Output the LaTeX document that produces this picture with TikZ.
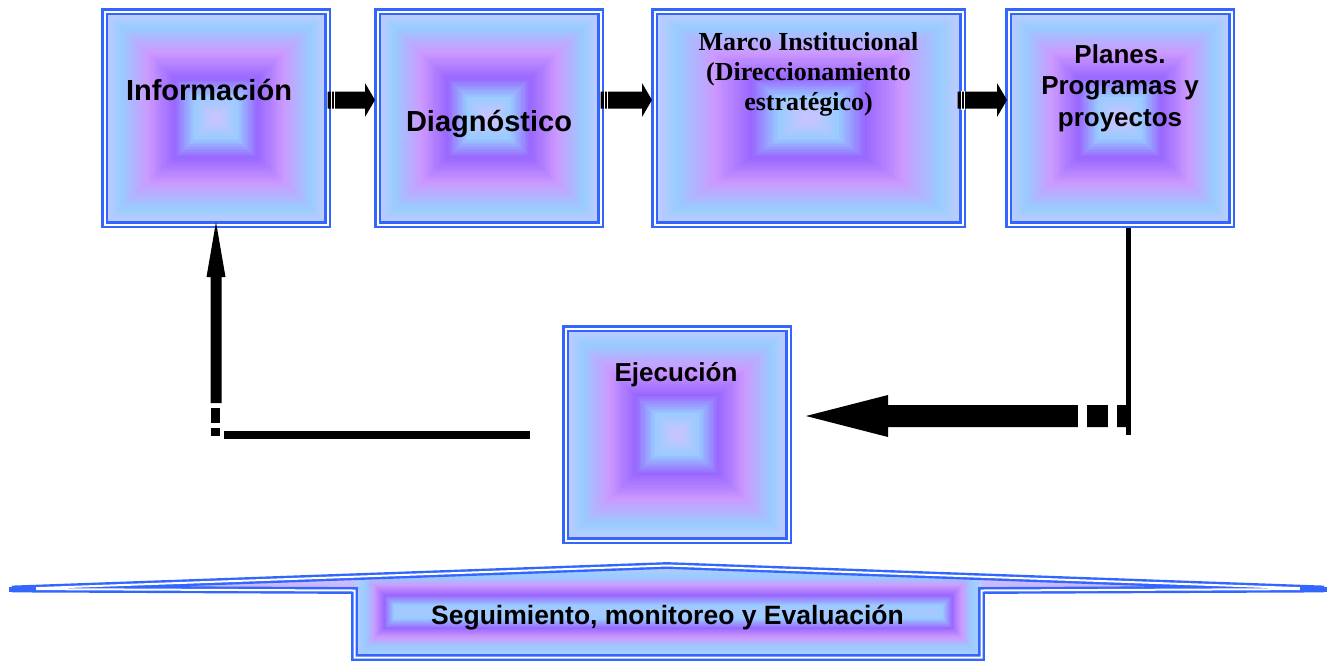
\documentclass[tikz,border=0pt]{standalone}
\usepackage{fontspec}
\setmainfont{Liberation Serif}
\setsansfont{Liberation Sans}
\usetikzlibrary{calc,backgrounds}
\definecolor{bl}{HTML}{3366FF}
\definecolor{g0}{HTML}{C4CCFF}
\definecolor{g1}{HTML}{99CCFF}
\definecolor{g2}{HTML}{CC99FF}
\definecolor{g3}{HTML}{9966FF}
\definecolor{g4}{HTML}{99CCFF}
\definecolor{g5}{HTML}{CCC4FF}
\definecolor{h0}{HTML}{B8CCFF}
\definecolor{h1}{HTML}{99CCFF}
\definecolor{h2}{HTML}{CC99FF}
\definecolor{h3}{HTML}{9966FF}
\definecolor{h4}{HTML}{99CCFF}
\definecolor{h5}{HTML}{A8C8FF}
\tikzset{
  pbox/.style={rectangle, draw=bl, line width=2.4pt, double=white, double distance=2pt,
    inner sep=0pt, outer sep=0pt, minimum width=223pt, minimum height=213pt},
  lblbig/.style={font=\sffamily\bfseries\fontsize{29pt}{33pt}\selectfont, inner sep=0pt, anchor=base},
  lblmid/.style={font=\sffamily\bfseries\fontsize{26pt}{31.5pt}\selectfont, inner sep=0pt, align=center},
  lblserif/.style={font=\rmfamily\bfseries\fontsize{26pt}{30pt}\selectfont, inner sep=0pt, align=center, anchor=north},
  bandline/.style={draw=bl, line width=2.4pt, double=white, double distance=2pt},
}
\newcommand\boxshade[1]{%
  \foreach \ca/\cb/\ta/\tb in {g0/g1/0/0.14, g1/g2/0.14/0.38, g2/g3/0.38/0.62, g3/g4/0.62/0.8, g4/g5/0.8/0.98}{%
    \foreach \jj in {0,...,11}{%
      \pgfmathsetmacro\sfac{1-(\ta+(\tb-\ta)*\jj/12)}%
      \pgfmathtruncatemacro\pmix{100*\jj/12}%
      \fill[\cb!\pmix!\ca] ($(#1.center)!\sfac!(#1.south west)$) rectangle ($(#1.center)!\sfac!(#1.north east)$);
    }}}
\newcommand\rblock[2]{%
  \fill ($(#1)+(0,-8.5)$) -- ($(#2)+(-10,-8.5)$) -- ($(#2)+(-10,-17)$) -- (#2) -- ($(#2)+(-10,17)$) -- ($(#2)+(-10,8.5)$) -- ($(#1)+(0,8.5)$) -- cycle;
  \fill[white] ($(#1)+(3,-9.5)$) rectangle ($(#1)+(4,9.5)$);
  \fill[white] ($(#1)+(6.3,-9.5)$) rectangle ($(#1)+(7.3,9.5)$);}
\begin{document}
\begin{tikzpicture}[x=1pt,y=-1pt]
\useasboundingbox (0,0) rectangle (1333,662);
% boxes
\node[pbox] (info) at (216,118) {};
\node[pbox] (diag) at (489,118) {};
\node[pbox, minimum width=308pt] (marco) at (808.5,118) {};
\node[pbox] (plan) at (1120,118) {};
\node[pbox, minimum height=212pt] (ejec) at (677,434.5) {};
\begin{scope}[on background layer]
  \fill[white] (0,0) rectangle (1333,662);
  \boxshade{info}
  \boxshade{diag}
  \boxshade{marco}
  \boxshade{plan}
  \boxshade{ejec}
\end{scope}
% labels
\node[lblbig] (infot) at (209,100.5) {Información};
\node[lblbig] (diagt) at (489,131) {Diagnóstico};
\node[lblserif] (marcot) at (808.5,32.4) {Marco Institucional\\(Direccionamiento\\estratégico)};
\node[lblmid, anchor=north] (plant) at (1120,44.4) {Planes.\\Programas y\\proyectos};
\node[lblmid, anchor=base] (eject) at (676,381) {Ejecución};
% arrows between top boxes
\coordinate (a1s) at ($(info.east)+(0,-18)$);
\coordinate (a1e) at ($(diag.west)+(-2.5,-18)$);
\coordinate (a2s) at ($(diag.east)+(0,-18)$);
\coordinate (a2e) at ($(marco.west)+(-2.5,-18)$);
\coordinate (a3s) at ($(marco.east)+(-5,-18)$);
\coordinate (a3e) at ($(plan.west)+(-1.5,-18)$);
\rblock{a1s}{a1e}
\rblock{a2s}{a2e}
\rblock{a3s}{a3e}
% right connector: Planes -> Ejecucion
\coordinate (rc) at ($(plan.south)+(8.5,210.5)$);
\draw[line width=5pt] ($(plan.south)+(8.5,3.5)$) -- (rc);
\coordinate (et) at ($(ejec.east)+(17.5,-18.5)$);
\coordinate (es) at ($(rc |- et)+(-2,0)$);
\fill ($(es)+(0,-11)$) -- ($(et)+(82,-11)$) -- ($(et)+(82,-21)$) -- (et) -- ($(et)+(82,21)$) -- ($(et)+(82,11)$) -- ($(es)+(0,11)$) -- cycle;
\fill[white] ($(es)+(-48.5,-12)$) rectangle ($(es)+(-39.5,12)$);
\fill[white] ($(es)+(-18.5,-12)$) rectangle ($(es)+(-9.5,12)$);
% left connector: Ejecucion -> Informacion
\coordinate (lc) at ($(info.south)+(0,210.5)$);
\draw[line width=8pt] ($(ejec.west)+(-35.5,0.5)$) -- ($(lc)+(8,0)$);
\fill ($(lc)+(-5,-7)$) rectangle ($(lc)+(4,1)$);
\fill ($(lc)+(-5,-27)$) rectangle ($(lc)+(4,-12)$);
\coordinate (ut) at ($(info.south)+(0,-2.5)$);
\fill ($(lc)+(-5.5,-32)$) -- ($(ut)+(-5.5,55)$) -- ($(ut)+(-9.5,55)$) -- (ut) -- ($(ut)+(9.5,55)$) -- ($(ut)+(5.5,55)$) -- ($(lc)+(5.5,-32)$) -- cycle;
% bottom banner
\begin{scope}
  \clip (12,589) -- (667,565.5) -- (1324,589) -- (981.5,590.5) -- (981.5,657.5) -- (354.5,657.5) -- (354.5,590.5) -- cycle;
  \fill[top color=g1!50!white, bottom color=g2] (0,560) rectangle (1333,600);
  \foreach \ca/\cb/\da/\db in {h0/h1/0/10, h1/h2/10/20, h2/h3/20/29, h3/h4/29/39, h4/h5/39/46}{%
    \foreach \jj in {0,...,9}{%
      \pgfmathsetmacro\dinset{\da+(\db-\da)*\jj/10}%
      \pgfmathtruncatemacro\pmix{100*\jj/10}%
      \fill[\cb!\pmix!\ca] (354.5+\dinset,565.5+\dinset) rectangle (981.5-\dinset,657.5-\dinset);
    }}
\end{scope}
\draw[bandline] (12,589) -- (667,565.5) -- (1324,589) -- (981.5,590.5) -- (981.5,657.5) -- (354.5,657.5) -- (354.5,590.5) -- cycle;
\fill[bl] (9,586.5) rectangle (36,591.5);
\fill[bl] (1300,586.5) rectangle (1327,591.5);
\node[lblmid, font=\sffamily\bfseries\fontsize{26.5pt}{30pt}\selectfont, anchor=base] (seg) at (667.5,624) {Seguimiento, monitoreo y Evaluación};
\end{tikzpicture}
\end{document}
